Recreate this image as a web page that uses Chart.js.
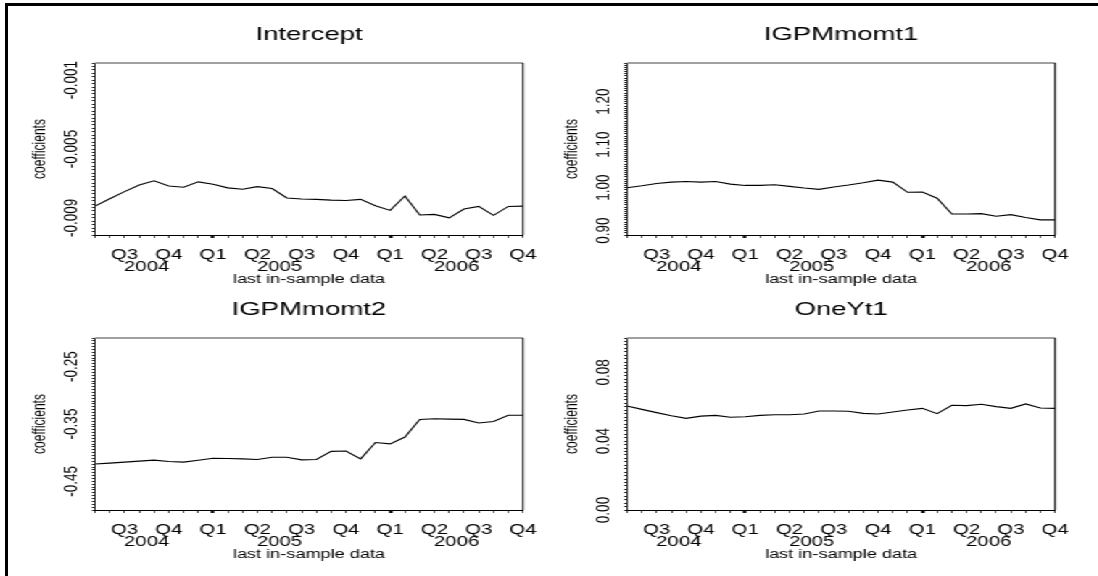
<!DOCTYPE html>
<html>
<head>
<meta charset="utf-8">
<script src="https://cdn.jsdelivr.net/npm/chart.js@4.4.1/dist/chart.umd.min.js"></script>
<style>
  html, body { margin: 0; padding: 0; background: #fff; }
  body { width: 1098px; height: 576px; overflow: hidden; position: relative; }
  #frame { position: absolute; left: 5px; top: 3px; width: 1200px; height: 700px;
           border-top: 3px solid #000; border-left: 3px solid #000; }
  /* the original graph is stretched sideways, so the whole stage is too */
  #stage { position: absolute; left: 0; top: 0; width: 758px; height: 576px;
           transform: scaleX(1.45); transform-origin: 0 0; }
  #stage canvas { position: absolute; }
</style>
</head>
<body>
<div id="frame"></div>
<div id="stage">
  <canvas id="p1" width="392" height="288" style="left:0px;top:0px"></canvas>
  <canvas id="p2" width="392" height="288" style="left:366.9px;top:0px"></canvas>
  <canvas id="p3" width="392" height="288" style="left:0px;top:275px"></canvas>
  <canvas id="p4" width="392" height="288" style="left:366.9px;top:275px"></canvas>
</div>
<script>
// ---- data ----
const months = [
  "2004-05", "2004-06", "2004-07", "2004-08", "2004-09", "2004-10", "2004-11", "2004-12",
  "2005-01", "2005-02", "2005-03", "2005-04", "2005-05", "2005-06", "2005-07", "2005-08",
  "2005-09", "2005-10", "2005-11", "2005-12",
  "2006-01", "2006-02", "2006-03", "2006-04", "2006-05", "2006-06", "2006-07", "2006-08",
  "2006-09", "2006-10"
];
const quarterMonths = ["2004-07", "2004-10", "2005-01", "2005-04", "2005-07", "2005-10",
  "2006-01", "2006-04", "2006-07", "2006-10"];
const quarterLabels = ["Q3", "Q4", "Q1", "Q2", "Q3", "Q4", "Q1", "Q2", "Q3", "Q4"];
const yearLabels = ["2004", "2005", "2006"];
const yearTickValues = [3.5, 12.5, 24.5]; // month index under which each year is written

const intercept = [-0.00832, -0.00789, -0.00748, -0.00709, -0.00685, -0.00715, -0.00722, -0.00691,
  -0.00705, -0.00726, -0.00734, -0.00719, -0.0073, -0.00785, -0.00791, -0.00793, -0.00797, -0.00799,
  -0.00793, -0.0083, -0.00857, -0.00773, -0.00884, -0.0088, -0.009, -0.00849, -0.00834, -0.00886,
  -0.00834, -0.00832];
const igpmMomt1 = [1.000, 1.0046, 1.0099, 1.013, 1.0145, 1.013, 1.0145, 1.0084, 1.0053, 1.0053,
  1.0069, 1.0031, 0.9992, 0.9962, 1.0015, 1.0061, 1.0115, 1.0176, 1.013, 0.9893, 0.9901, 0.9756,
  0.9389, 0.9389, 0.9397, 0.9336, 0.9374, 0.9305, 0.9252, 0.9252];
const igpmMomt2 = [-0.4199, -0.4182, -0.4165, -0.4148, -0.4131, -0.4153, -0.4165, -0.4131, -0.4097,
  -0.4102, -0.4108, -0.4119, -0.408, -0.408, -0.4125, -0.4119, -0.3977, -0.3972, -0.4108, -0.3824,
  -0.3847, -0.3727, -0.342, -0.3409, -0.3415, -0.342, -0.3483, -0.3455, -0.3347, -0.3347];
const oneYt1 = [0.0605, 0.0585, 0.0566, 0.0548, 0.0533, 0.0546, 0.055, 0.0539, 0.0542, 0.055,
  0.0554, 0.0554, 0.0558, 0.0576, 0.0576, 0.0574, 0.0562, 0.0558, 0.057, 0.0581, 0.0591, 0.056,
  0.0609, 0.0607, 0.0615, 0.0601, 0.0591, 0.0617, 0.0593, 0.0591];

const interceptTicks = [-0.009, -0.005, -0.001];
const momt1Ticks = [0.90, 1.00, 1.10, 1.20];
const momt2Ticks = [-0.45, -0.35, -0.25];
const oneYtTicks = [0.00, 0.04, 0.08];

// ---- layout (chart units, x is stretched by 1.45 on screen) ----
const FONT = '"Liberation Sans", Arial, sans-serif';
const AXIS_W = 65.5;        // y axis box width
const RIGHT_PAD = 31.3;
const THIN = 1 / 1.45;      // vertical hairline after stretch
const Y_FONT = 13.5;

const measure = document.createElement("canvas").getContext("2d");
function widest(labels, size) {
  measure.font = size + "px " + FONT;
  return Math.max(...labels.map(t => measure.measureText(t).width));
}

const isMonth = v => Number.isInteger(v);

const plotFrame = {
  id: "plotFrame",
  afterDatasetsDraw(chart) {
    const { ctx, chartArea: a } = chart;
    ctx.save();
    ctx.strokeStyle = "#808080";
    ctx.lineWidth = 1.5;
    ctx.beginPath();
    ctx.moveTo(a.left, a.top);
    ctx.lineTo(a.right, a.top);
    ctx.stroke();
    ctx.strokeStyle = "#000";
    ctx.lineWidth = 1;
    ctx.beginPath();
    ctx.moveTo(a.right, a.top);
    ctx.lineTo(a.right, a.bottom);
    ctx.stroke();
    ctx.restore();
  }
};

function panel(id, title, values, yMin, yMax, yStep, majors, decimals) {
  const labels = majors.map(v => v.toFixed(decimals));
  const yPad = 16 - 2 - widest(labels, Y_FONT) / 2;

  new Chart(document.getElementById(id), {
    type: "line",
    data: {
      datasets: [{
        data: values.map((v, i) => ({ x: i, y: v })),
        borderColor: "#000",
        borderWidth: 1.1,
        pointRadius: 0,
        tension: 0,
        fill: false
      }]
    },
    plugins: [plotFrame],
    options: {
      responsive: false,
      animation: false,
      devicePixelRatio: 1,
      events: [],
      layout: { padding: { left: 0, right: RIGHT_PAD, top: 0, bottom: 0 } },
      plugins: {
        legend: { display: false },
        tooltip: { enabled: false },
        title: {
          display: true,
          text: title,
          fullSize: false,
          color: "#000",
          font: { family: FONT, size: 19, weight: "normal" },
          padding: { top: 23.6, bottom: 16.6 }
        }
      },
      scales: {
        x: {
          type: "linear",
          position: "bottom",
          min: 0,
          max: months.length - 1,
          offset: false,
          grid: {
            drawOnChartArea: false,
            tickLength: 3,
            tickColor: c => (c.tick && isMonth(c.tick.value)) ? "#000" : "rgba(0,0,0,0)",
            tickWidth: c => (c.tick && (months[c.tick.value] || "").endsWith("-01")) ? 2.4 : THIN
          },
          border: { display: true, color: "#000", width: 1 },
          afterBuildTicks: s => {
            const ticks = months.map((m, i) => ({ value: i }))
              .concat(yearTickValues.map(v => ({ value: v })));
            ticks.sort((a, b) => a.value - b.value);
            s.ticks = ticks;
          },
          ticks: {
            autoSkip: false,
            maxRotation: 0,
            minRotation: 0,
            padding: 11.9,
            color: "#000",
            font: { family: FONT, size: 14, lineHeight: 0.8 },
            callback: v => {
              if (!isMonth(v)) return ["", yearLabels[yearTickValues.indexOf(v)]];
              const q = quarterMonths.indexOf(months[v]);
              return q < 0 ? "" : quarterLabels[q];
            }
          },
          title: {
            display: true,
            text: "last in-sample data",
            color: "#000",
            font: { family: FONT, size: 12.5 },
            padding: { top: 0, bottom: 0.5 }
          },
          afterFit: s => { s.height = 53; }
        },
        y: {
          type: "linear",
          position: "left",
          min: yMin,
          max: yMax,
          grid: {
            drawOnChartArea: false,
            tickLength: 2,
            tickColor: "#000",
            tickWidth: 1
          },
          border: { display: true, color: "#000", width: 0.8 },
          afterBuildTicks: s => {
            const n = Math.round((yMax - yMin) / yStep);
            const ticks = [];
            for (let k = 0; k <= n; k++) ticks.push({ value: +(yMin + k * yStep).toFixed(6) });
            s.ticks = ticks;
          },
          ticks: {
            autoSkip: false,
            minRotation: 90,
            maxRotation: 90,
            crossAlign: "center",
            padding: yPad,
            color: "#000",
            font: { family: FONT, size: Y_FONT },
            callback: v => {
              const m = majors.findIndex(t => Math.abs(t - v) < yStep / 4);
              return m < 0 ? "" : labels[m];
            }
          },
          title: {
            display: true,
            text: "coefficients",
            color: "#000",
            font: { family: FONT, size: 12 },
            padding: { top: 20.3, bottom: 0 }
          },
          afterFit: s => { s.width = AXIS_W; }
        }
      }
    }
  });
}

panel("p1", "Intercept", intercept, -0.010, 0.000, 0.0002, interceptTicks, 3);
panel("p2", "IGPMmomt1", igpmMomt1, 0.89, 1.29, 0.005, momt1Ticks, 2);
panel("p3", "IGPMmomt2", igpmMomt2, -0.50, -0.20, 0.005, momt2Ticks, 2);
panel("p4", "OneYt1", oneYt1, 0.00, 0.10, 0.002, oneYtTicks, 2);
</script>
</body>
</html>
